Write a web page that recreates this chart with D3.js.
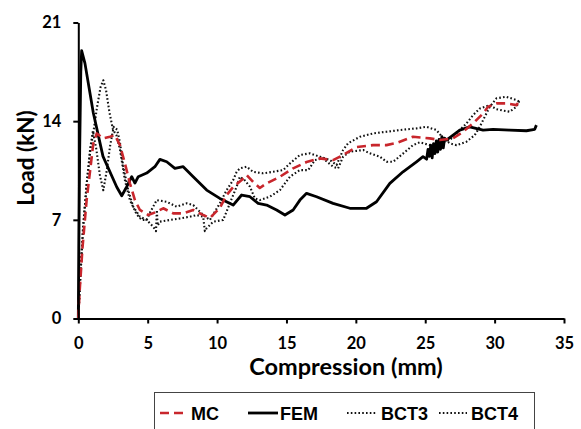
<!DOCTYPE html>
<html><head><meta charset="utf-8">
<script src="https://cdn.jsdelivr.net/npm/d3@7"></script>
<style>body{margin:0;background:#fff}svg{display:block}</style>
</head><body>
<svg id="c" width="581" height="429"></svg>
<script>
const xTicks = [0,5,10,15,20,25,30,35];
const yTicks = [0,7,14,21];
const seriesNames = ["MC","FEM","BCT3","BCT4"];

const fem = [[0,0],[0.04,5],[0.1,12],[0.18,17.5],[0.24,19.0],[0.48,18.1],[1.08,14.6],[1.78,11.5],[2.77,9.33],[3.13,8.71],[3.49,9.35],[3.85,10.06],[4.08,9.61],[4.32,10.06],[4.93,10.32],[5.52,10.77],[5.88,11.29],[6.37,11.12],[6.96,10.65],[7.56,10.77],[8.28,10.06],[9.25,9.11],[10.2,8.52],[11.16,8.05],[11.77,8.76],[12.37,8.64],[12.96,8.17],[13.57,8.05],[14.29,7.70],[14.89,7.34],[15.48,7.70],[15.97,8.40],[16.45,8.88],[17.17,8.64],[18.36,8.17],[19.57,7.82],[20.77,7.82],[21.49,8.28],[22.45,9.59],[23.4,10.41],[24.37,11.12],[24.84,11.48],[25.1,11.3],[25.2,12.0],[25.3,11.5],[25.4,12.3],[25.5,11.4],[25.6,12.4],[25.7,11.7],[25.8,12.6],[25.9,11.8],[26.0,12.7],[26.1,12.0],[26.2,12.9],[26.3,12.1],[26.4,12.8],[26.53,12.66],[27.49,13.37],[28.2,13.6],[29.17,13.37],[29.89,13.42],[31.09,13.37],[32.29,13.32],[32.89,13.42],[33.01,13.72]];

const mc = [[0,0],[0.1,2],[0.3,5],[0.6,8.4],[1.08,12.4],[1.33,13.13],[1.8,12.78],[2.28,12.89],[2.64,13.01],[3.0,12.3],[3.36,11.0],[3.72,9.59],[4.08,8.4],[4.44,7.7],[5.04,7.34],[5.65,7.57],[6.12,7.82],[6.84,7.46],[7.56,7.46],[8.28,7.7],[9.0,7.34],[9.48,7.13],[10.2,7.84],[10.69,8.76],[11.16,9.33],[11.77,9.82],[12.13,10.18],[12.6,9.68],[13.08,9.26],[13.57,9.59],[14.53,10.06],[15.48,10.65],[16.45,11.1],[17.41,11.36],[18.36,11.24],[19.08,11.6],[20.05,12.16],[21.24,12.3],[22.21,12.3],[22.93,12.45],[24.12,12.89],[25.33,12.78],[26.05,12.66],[27.0,12.78],[27.73,13.25],[28.45,13.84],[29.17,14.55],[29.53,15.02],[30.13,15.26],[30.85,15.26],[31.57,15.14],[31.81,15.45]];

const bct3 = [[0,0],[0.15,3],[0.35,6.5],[0.6,9.5],[0.9,12.2],[1.1,13.3],[1.35,15],[1.6,16.4],[1.8,16.9],[2.0,16.2],[2.25,14.6],[2.5,13.4],[2.75,13.0],[3.0,12.0],[3.36,9.8],[3.72,8.4],[4.2,7.4],[4.56,7.0],[4.93,7.0],[5.16,7.5],[5.65,8.4],[6.37,8.28],[7.09,7.93],[7.81,8.17],[8.28,8.05],[9.0,7.34],[9.48,6.99],[10.2,8.17],[10.69,9.11],[11.16,9.82],[11.41,10.4],[11.64,10.65],[12.13,10.77],[12.6,10.4],[13.32,10.3],[14.04,10.41],[14.76,10.53],[15.25,11.0],[15.97,11.6],[16.69,11.72],[17.41,11.48],[18.13,11.24],[18.61,10.89],[19.08,11.95],[19.44,12.43],[20.29,12.89],[21.24,13.13],[22.21,13.25],[23.17,13.37],[24.37,13.49],[25.09,13.6],[25.81,13.37],[26.29,12.78],[26.77,12.43],[27.25,12.3],[27.97,12.54],[28.57,13.01],[28.93,13.6],[29.29,14.31],[29.65,15.02],[30.13,15.62],[30.85,15.73],[31.57,15.5],[31.81,15.38]];

const bct4 = [[0,0],[0.15,3],[0.35,6.5],[0.6,9.5],[0.85,12.0],[1.05,13.3],[1.3,12.0],[1.55,10.2],[1.8,9.1],[2.05,10.5],[2.3,12.3],[2.55,13.6],[2.8,13.4],[3.0,12.5],[3.24,10.77],[3.6,9.1],[3.96,7.93],[4.44,7.22],[4.93,6.99],[5.4,6.51],[5.6,6.2],[5.66,7.7],[5.72,6.6],[5.88,6.87],[6.6,6.99],[7.32,7.1],[8.04,7.22],[8.53,7.34],[9.0,7.22],[9.12,6.2],[9.25,6.4],[9.72,6.87],[10.44,6.99],[10.92,8.17],[11.41,9.35],[11.64,10.06],[12.0,9.8],[12.37,9.35],[12.72,8.52],[13.08,8.4],[13.8,8.64],[14.53,9.11],[15.25,10.06],[15.97,10.53],[16.57,10.53],[17.05,11.24],[17.64,11.36],[18.36,10.77],[18.72,10.65],[19.08,11.48],[19.57,11.83],[20.53,11.95],[21.0,11.72],[21.73,11.48],[22.21,11.12],[22.69,11.12],[23.4,11.7],[24.12,12.3],[24.6,12.5],[25.33,12.3],[26.05,12.43],[26.77,12.66],[27.25,13.13],[27.97,13.84],[28.45,14.43],[28.93,14.9],[29.65,15.14],[30.13,14.85],[30.6,14.75],[31.09,14.67],[31.57,15.02],[31.81,15.5]];

const svg = d3.select("#c");
const x = d3.scaleLinear().domain([0,35]).range([78.3,564]);
const y = d3.scaleLinear().domain([0,21]).range([318.5,22.5]);
const tickFont = "Lato, 'Open Sans', sans-serif";

const line = d3.line().x(d=>x(d[0])).y(d=>y(d[1]));

const styles = {
  MC:{stroke:"#c8262c", width:2.6, dash:"9,5"},
  FEM:{stroke:"#000", width:2.8, dash:null},
  BCT3:{stroke:"#111", width:2.1, dash:"1.6,2.2"},
  BCT4:{stroke:"#111", width:2.1, dash:"1.6,2.2"}
};
const dataBy = {MC:mc, FEM:fem, BCT3:bct3, BCT4:bct4};

["BCT3","BCT4","FEM","MC"].forEach(n=>{
  const s = styles[n];
  svg.append("path").datum(dataBy[n]).attr("d",line)
    .attr("fill","none").attr("stroke",s.stroke).attr("stroke-width",s.width)
    .attr("stroke-dasharray",s.dash).attr("stroke-linejoin","round");
});

// axes
const xa = svg.append("g").attr("transform",`translate(0,${y(0)})`)
  .call(d3.axisBottom(x).tickValues(xTicks).tickSize(5).tickSizeOuter(0).tickPadding(14));
const ya = svg.append("g").attr("transform",`translate(${x(0)},0)`)
  .call(d3.axisLeft(y).tickValues(yTicks).tickSize(5).tickSizeOuter(0).tickPadding(12));
[xa,ya].forEach(a=>{
  a.select(".domain").attr("stroke","#000").attr("stroke-width",2);
  a.selectAll(".tick line").attr("stroke","#000").attr("stroke-width",2);
  a.selectAll(".tick text").attr("font-family",tickFont).attr("font-weight","bold")
   .attr("font-size",16.5).attr("fill","#000");
});

svg.append("text").attr("x",346).attr("y",375).attr("text-anchor","middle")
  .attr("font-family",tickFont).attr("font-weight","bold").attr("font-size",23.5)
  .text("Compression (mm)");
svg.append("text").attr("transform","translate(34,158) rotate(-90)").attr("text-anchor","middle")
  .attr("font-family",tickFont).attr("font-weight","bold").attr("font-size",22.5)
  .text("Load (kN)");

// legend
const lg = svg.append("g");
lg.append("rect").attr("x",154.5).attr("y",392.5).attr("width",380).attr("height",50)
  .attr("fill","#fff").attr("stroke","#444").attr("stroke-width",1);
const legItems = [
  {n:"MC", x0:160, x1:187, tx:191},
  {n:"FEM", x0:248, x1:278, tx:280},
  {n:"BCT3", x0:347, x1:377, tx:381},
  {n:"BCT4", x0:439, x1:467, tx:471}
];
legItems.forEach(it=>{
  const s = styles[it.n];
  lg.append("line").attr("x1",it.x0).attr("x2",it.x1).attr("y1",413).attr("y2",413)
    .attr("stroke",s.stroke).attr("stroke-width",s.width).attr("stroke-dasharray",s.dash);
  lg.append("text").attr("x",it.tx).attr("y",419.5).attr("font-family","'Liberation Sans', Arial, sans-serif")
    .attr("font-weight","bold").attr("font-size",18).text(it.n);
});
</script>
</body></html>
